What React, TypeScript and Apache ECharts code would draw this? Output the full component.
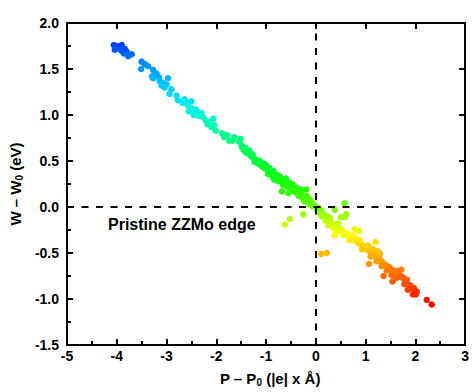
import React, { useEffect, useRef } from "react";
import * as echarts from "echarts";

// [P - P0, W - W0] pairs
const blueCluster: number[][] = [
  [-4.06, 1.76], [-4.03, 1.73], [-4.0, 1.75], [-3.96, 1.74], [-3.9, 1.76], [-3.91, 1.7],
  [-3.86, 1.67], [-3.8, 1.69], [-3.77, 1.64], [-3.7, 1.66], [-4.04, 1.71], [-3.84, 1.72],
];
const lightBlueBand: number[][] = [
  [-3.5, 1.58], [-3.43, 1.55], [-3.37, 1.53], [-3.51, 1.5], [-3.27, 1.49], [-3.29, 1.42],
  [-3.27, 1.4], [-3.15, 1.41], [-3.14, 1.37], [-3.07, 1.35], [-3.0, 1.33], [-3.04, 1.3],
  [-2.97, 1.4], [-2.9, 1.28], [-2.94, 1.23], [-3.1, 1.32], [-3.2, 1.45],
];
const cyanBand: number[][] = [
  [-2.8, 1.21], [-2.77, 1.16], [-2.64, 1.17], [-2.6, 1.14], [-2.57, 1.1], [-2.5, 1.15],
  [-2.52, 1.08], [-2.47, 1.05], [-2.41, 1.06], [-2.37, 1.03], [-2.34, 0.99], [-2.27, 0.98],
  [-2.21, 0.94], [-2.14, 0.92], [-2.06, 0.96], [-2.04, 0.89], [-2.01, 0.83], [-2.68, 1.13],
  [-2.55, 1.04], [-2.45, 1.0], [-2.3, 1.02], [-2.18, 0.9], [-2.1, 0.87],
];
const tealBand: number[][] = [
  [-1.88, 0.8], [-1.84, 0.76], [-1.78, 0.78], [-1.74, 0.72], [-1.68, 0.72], [-1.81, 0.78],
  [-1.64, 0.76], [-1.54, 0.71], [-1.51, 0.74], [-1.49, 0.67], [-1.48, 0.65], [-1.45, 0.62],
  [-1.41, 0.64], [-1.38, 0.6], [-1.35, 0.58], [-1.31, 0.56], [-1.29, 0.55], [-1.25, 0.53],
  [-1.21, 0.51], [-1.18, 0.51], [-1.15, 0.47], [-1.4, 0.59], [-1.33, 0.61], [-1.27, 0.57],
  [-1.23, 0.49],
];
const greenBand: number[][] = [
  [-1.12, 0.5], [-1.08, 0.44], [-1.05, 0.47], [-1.01, 0.46], [-0.98, 0.44], [-0.95, 0.39],
  [-0.91, 0.4], [-0.88, 0.37], [-0.85, 0.39], [-0.82, 0.35], [-0.8, 0.33], [-0.78, 0.35],
  [-0.75, 0.31], [-0.72, 0.33], [-0.7, 0.3], [-0.65, 0.3], [-0.62, 0.26], [-0.58, 0.28],
  [-0.55, 0.24], [-0.52, 0.26], [-0.49, 0.23], [-0.45, 0.21], [-0.42, 0.19], [-0.39, 0.21],
  [-0.35, 0.17], [-0.32, 0.14], [-0.29, 0.15], [-0.25, 0.12], [-0.22, 0.1], [-0.19, 0.08],
  [-0.15, 0.06], [-0.12, 0.08], [-0.09, 0.05], [-0.05, 0.03], [-0.02, 0.01], [-1.1, 0.47],
  [-1.03, 0.42], [-0.93, 0.42], [-0.87, 0.33], [-0.76, 0.28], [-0.68, 0.28], [-0.6, 0.31],
  [-0.5, 0.2], [-0.47, 0.25], [-0.38, 0.15], [-0.3, 0.19], [-0.27, 0.1], [-0.18, 0.12],
  [-0.13, 0.03], [-0.07, 0.01], [-0.96, 0.36], [-0.84, 0.3], [-0.66, 0.24], [-0.57, 0.22],
  [-0.44, 0.17], [-0.34, 0.12], [-0.23, 0.06],
];
const yellowBand: number[][] = [
  [0.02, -0.03], [0.05, -0.01], [0.08, -0.06], [0.11, -0.04], [0.15, -0.08], [0.18, -0.11],
  [0.21, -0.09], [0.24, -0.13], [0.2, -0.15], [0.27, -0.15], [0.31, -0.17], [0.34, -0.19],
  [0.38, -0.19], [0.41, -0.22], [0.44, -0.22], [0.48, -0.24], [0.51, -0.26], [0.54, -0.25],
  [0.58, -0.28], [0.61, -0.29], [0.64, -0.31], [0.67, -0.3], [0.71, -0.33], [0.74, -0.35],
  [0.78, -0.36], [0.81, -0.35], [0.84, -0.38], [0.87, -0.4], [0.91, -0.4], [0.94, -0.42],
  [0.97, -0.44], [0.12, -0.1], [0.29, -0.12], [0.36, -0.23], [0.45, -0.18], [0.55, -0.3],
  [0.68, -0.36], [0.76, -0.31], [0.88, -0.36], [0.93, -0.46], [0.4, -0.27], [0.25, -0.2],
];
const orangeBand: number[][] = [
  [1.0, -0.44], [1.04, -0.47], [1.07, -0.45], [1.11, -0.49], [1.14, -0.51], [1.17, -0.5],
  [1.2, -0.54], [1.24, -0.53], [1.27, -0.54], [1.3, -0.58], [1.34, -0.6], [1.37, -0.62],
  [1.4, -0.63], [1.44, -0.65], [1.47, -0.65], [1.5, -0.67], [1.54, -0.7], [1.57, -0.69],
  [1.6, -0.72], [1.1, -0.54], [1.22, -0.59], [1.32, -0.64], [1.42, -0.69], [1.52, -0.74],
  [1.05, -0.42], [1.15, -0.46], [1.29, -0.51], [1.2, -0.38], [1.07, -0.62], [1.36, -0.75],
  [1.54, -0.81], [1.25, -0.48],
];
const redBand: number[][] = [
  [1.64, -0.7], [1.67, -0.72], [1.7, -0.76], [1.74, -0.76], [1.77, -0.78], [1.8, -0.81],
  [1.83, -0.79], [1.87, -0.85], [1.9, -0.85], [1.93, -0.88], [1.97, -0.88], [2.0, -0.92],
  [2.03, -0.92], [1.72, -0.68], [1.85, -0.9], [1.95, -0.95], [2.01, -0.95], [1.62, -0.77],
  [1.78, -0.84], [2.23, -1.01], [2.33, -1.06],
];
const outliers: number[][] = [
  [0.11, -0.51], [0.22, -0.5], [-0.68, 0.17], [-0.55, 0.15], [-0.19, 0.19], [-0.52, -0.13],
  [-0.62, -0.19], [-0.25, -0.08], [0.58, 0.04], [0.51, -0.11], [0.58, -0.11], [0.61, -0.08],
  [0.38, -0.31], [0.78, -0.24], [0.87, -0.26], [0.38, -0.03],
];

const allPoints = [
  ...blueCluster, ...lightBlueBand, ...cyanBand, ...tealBand, ...greenBand,
  ...yellowBand, ...orangeBand, ...redBand, ...outliers,
];

// colour scale keyed on W - W0
const colorStops: [number, string][] = [
  [1.76, "#0040ff"], [1.55, "#0090ff"], [1.3, "#00ccff"], [1.1, "#00f0f0"],
  [0.9, "#00ffb8"], [0.7, "#00ff70"], [0.45, "#00ff30"], [0.2, "#20ff00"],
  [0.0, "#70ff00"], [-0.15, "#b8ff00"], [-0.3, "#ffff00"], [-0.45, "#ffc800"],
  [-0.6, "#ff9800"], [-0.8, "#ff5a00"], [-1.06, "#ff0000"],
];

function hexToRgb(h: string) {
  const n = parseInt(h.slice(1), 16);
  return [(n >> 16) & 255, (n >> 8) & 255, n & 255];
}
function colorFor(w: number): string {
  if (w >= colorStops[0][0]) return colorStops[0][1];
  for (let i = 0; i < colorStops.length - 1; i++) {
    const [a, ca] = colorStops[i];
    const [b, cb] = colorStops[i + 1];
    if (w <= a && w >= b) {
      const t = (a - w) / (a - b);
      const A = hexToRgb(ca), B = hexToRgb(cb);
      const c = A.map((v, k) => Math.round(v + (B[k] - v) * t));
      return `rgb(${c[0]},${c[1]},${c[2]})`;
    }
  }
  return colorStops[colorStops.length - 1][1];
}

export default function App() {
  const ref = useRef<HTMLDivElement>(null);
  useEffect(() => {
    const chart = echarts.init(ref.current!, null, { renderer: "svg" });
    const font = "'Liberation Sans', Arial, sans-serif";
    const lineStyle = { color: "#000", width: 2 };
    const subRich = {
      s: { fontSize: 10, fontWeight: "bold", fontFamily: font, color: "#000", verticalAlign: "bottom", padding: [0, 0, -1, 0] },
    };
    chart.setOption({
      animation: false,
      backgroundColor: "#fff",
      grid: { left: 66, right: 4, top: 23, bottom: 43 },
      xAxis: [
        {
          type: "value", min: -5, max: 3, interval: 1,
          axisLine: { onZero: false, lineStyle },
          axisTick: { inside: true, length: 6, lineStyle },
          minorTick: { show: true, splitNumber: 2, length: 4, lineStyle },
          splitLine: { show: false },
          axisLabel: { color: "#000", fontWeight: "bold", fontSize: 14, fontFamily: font, margin: 4 },
          name: "P – P{s|0} (|e| x Å)",
          nameLocation: "middle",
          nameGap: 26,
          nameTextStyle: { color: "#000", fontWeight: "bold", fontSize: 15, fontFamily: font, rich: subRich, padding: [0, 0, 0, 8] },
        },
        {
          type: "value", min: -5, max: 3, interval: 1, position: "top",
          axisLine: { onZero: false, lineStyle },
          axisTick: { inside: true, length: 6, lineStyle },
          axisLabel: { show: false },
          splitLine: { show: false },
        },
      ],
      yAxis: [
        {
          type: "value", min: -1.5, max: 2, interval: 0.5,
          axisLine: { onZero: false, lineStyle },
          axisTick: { inside: true, length: 6, lineStyle },
          minorTick: { show: true, splitNumber: 2, length: 4, lineStyle },
          splitLine: { show: false },
          axisLabel: {
            color: "#000", fontWeight: "bold", fontSize: 14, fontFamily: font, margin: 8,
            formatter: (v: number) => v.toFixed(1),
          },
          name: "W – W{s|0} (eV)",
          nameLocation: "middle",
          nameGap: 38,
          nameTextStyle: { color: "#000", fontWeight: "bold", fontSize: 15, fontFamily: font, rich: subRich },
        },
        {
          type: "value", min: -1.5, max: 2, interval: 0.5, position: "right",
          axisLine: { onZero: false, lineStyle },
          axisTick: { inside: true, length: 6, lineStyle },
          axisLabel: { show: false },
          splitLine: { show: false },
        },
      ],
      series: [
        {
          type: "scatter",
          xAxisIndex: 0,
          yAxisIndex: 0,
          symbolSize: 6.5,
          data: allPoints,
          itemStyle: { color: (p: any) => colorFor(p.value[1]), opacity: 1 },
          markLine: {
            silent: true,
            symbol: "none",
            label: { show: false },
            lineStyle: { color: "#000", width: 2, type: [7, 7.5] },
            data: [{ xAxis: 0 }, { yAxis: 0 }],
          },
        },
      ],
      graphic: [
        {
          type: "text",
          left: 108,
          top: 216,
          style: { text: "Pristine ZZMo edge", fill: "#000", font: `bold 16px ${font}` },
        },
      ],
    });
    return () => chart.dispose();
  }, []);
  return (
    <div
      ref={ref}
      style={{ position: "fixed", left: 0, top: 0, width: 472, height: 392, background: "#fff" }}
    />
  );
}
